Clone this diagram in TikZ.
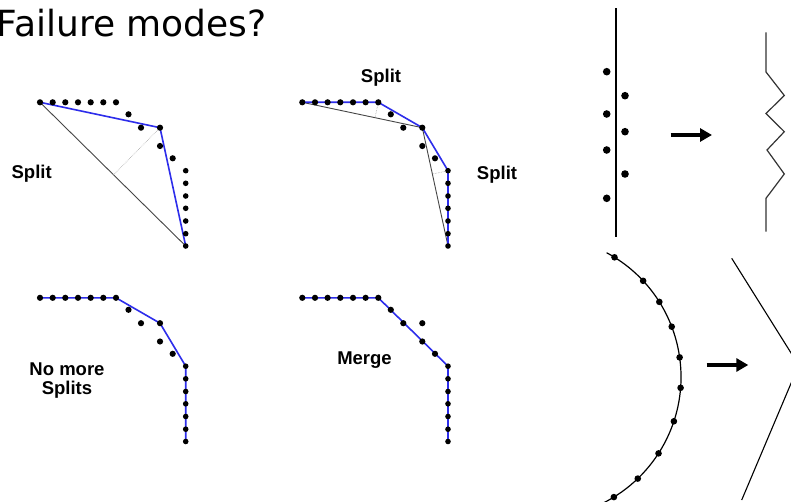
\documentclass[tikz,border=0pt]{standalone}
\usepackage{fontspec}
\usetikzlibrary{calc,arrows.meta}
\newfontfamily\titlefont{DejaVu Sans}
\newfontfamily\lblfont{Liberation Sans}
\definecolor{fitblue}{RGB}{45,45,235}
\definecolor{chordgray}{RGB}{70,70,70}
\tikzset{
  fitline/.style={draw=fitblue, line width=1.6pt, line join=round},
  chord/.style={draw=chordgray, line width=0.9pt},
  perp/.style={draw=gray!70, line width=0.6pt, densely dotted},
  lbl/.style={font=\lblfont\bfseries\fontsize{18.5}{19.3}\selectfont, inner sep=0pt},
  bigarrow/.style={line width=4pt, -{Triangle[length=12pt,width=13pt]}},
  sketch/.style={draw=black, line width=1.2pt},
}
\newcommand\curvepts{%
  \foreach \x in {40,52.7,65.3,78,90.7,103.3,116} \fill (\x,102.3) circle (3.1);
  \foreach \x/\y in {128.5/114.3,141/127.7,160/127.7,160/146,172.7/158.3} \fill (\x,\y) circle (3.1);
  \foreach \y in {170.7,183.3,196,208.3,221,233.7,246} \fill (185.7,\y) circle (2.8);
}
\begin{document}
\begin{tikzpicture}[x=1pt,y=-1pt]
\useasboundingbox (0,0) rectangle (791,502);
\clip (0,0) rectangle (791,502);
\fill[white] (0,0) rectangle (791,502);

% title
\node[font=\titlefont\fontsize{36}{40}\selectfont, anchor=base east, inner sep=0pt] (title) at (267,37) {Failure modes?};

% ---------- panel coordinates ----------
\coordinate (p1s) at (40,102.3);
\coordinate (p1v) at (160,127.7);
\coordinate (p1e) at (185.7,246);

\coordinate (p2s) at (302.3,102.3);
\coordinate (p2a) at (378.3,102.3);
\coordinate (p2v) at (422.3,127.7);
\coordinate (p2b) at (448,170.7);
\coordinate (p2e) at (448,246);

\coordinate (p3s) at (40,297.8);
\coordinate (p3a) at (116,297.8);
\coordinate (p3v) at (160,323.2);
\coordinate (p3b) at (185.7,366.2);
\coordinate (p3e) at (185.7,441.5);

\coordinate (p4s) at (302.3,297.8);
\coordinate (p4a) at (378.3,297.8);
\coordinate (p4b) at (448,366.2);
\coordinate (p4e) at (448,441.5);

% panel 1
\draw[chord] (p1s) -- (p1e);
\draw[perp] (p1v) -- ($(p1s)!(p1v)!(p1e)$);
\draw[fitline] (p1s) -- (p1v) -- (p1e);
% panel 2
\draw[chord] (p2s) -- (p2v) -- (p2e);
\draw[perp] (p2a) -- ($(p2s)!(p2a)!(p2v)$);
\draw[perp] (p2b) -- ($(p2v)!(p2b)!(p2e)$);
\draw[fitline] (p2s) -- (p2a) -- (p2v) -- (p2b) -- (p2e);
% panel 3
\draw[fitline] (p3s) -- (p3a) -- (p3v) -- (p3b) -- (p3e);
% panel 4
\draw[fitline] (p4s) -- (p4a) -- (p4b) -- (p4e);

\begin{scope}\curvepts\end{scope}
\begin{scope}[shift={(262.3,0)}]\curvepts\end{scope}
\begin{scope}[shift={(0,195.5)}]\curvepts\end{scope}
\begin{scope}[shift={(262.3,195.5)}]\curvepts\end{scope}

% labels
\node[lbl, anchor=base] (l1) at (31.7,178.3) {Split};
\node[lbl, anchor=base] (l2) at (381,82.7) {Split};
\node[lbl, anchor=base] (l3) at (497,179.3) {Split};
\node[lbl, anchor=north, align=center] (l4) at (67,362.7) {No more\\Splits};
\node[lbl, anchor=base] (l5) at (364.5,364.3) {Merge};

% ---------- top right: noise -> zigzag ----------
\coordinate (vt) at (615.7,8.3);
\coordinate (vb) at (615.7,237.3);
\draw[line width=2.2pt] (vt) -- (vb);
\foreach \y in {71.7,114,150,198.3} \fill (606.7,\y) circle (3.8);
\foreach \y in {95.7,131.7,174} \fill (625,\y) circle (3.8);
\coordinate (a1s) at (670.7,135);
\coordinate (a1e) at (712,135);
\draw[bigarrow] (a1s) -- (a1e);
\coordinate (z0) at (766,32.3);
\coordinate (z1) at (766,72);
\coordinate (z2) at (784.3,95.5);
\coordinate (z3) at (766,113.5);
\coordinate (z4) at (784.3,131.7);
\coordinate (z5) at (767,150);
\coordinate (z6) at (784.3,174);
\coordinate (z7) at (766,198.3);
\coordinate (z8) at (766,231.7);
\draw[draw=black!80, line width=1.2pt] (z0) -- (z1) -- (z2) -- (z3) -- (z4) -- (z5) -- (z6) -- (z7) -- (z8);

% ---------- bottom right: arc -> chevron ----------
\coordinate (C) at (540,377);
\draw[sketch] ($(C)+(-61.8:141)$) arc[start angle=-61.8, end angle=63.5, radius=141];
\foreach \a in {-58.1,-43,-32.2,-20.9,-8,4.4,18.3,32.8,46.1,58.4}
  \fill ($(C)+(\a:141)$) circle (3.3);
\coordinate (a2s) at (706.7,365);
\coordinate (a2e) at (748.3,365);
\draw[bigarrow] (a2s) -- (a2e);
\coordinate (c0) at (731.7,258.3);
\coordinate (c1) at (798.7,365.2);
\coordinate (c2) at (741.7,500);
\draw[sketch, line width=1.1pt] (c0) -- (c1) -- (c2);
\end{tikzpicture}
\end{document}
